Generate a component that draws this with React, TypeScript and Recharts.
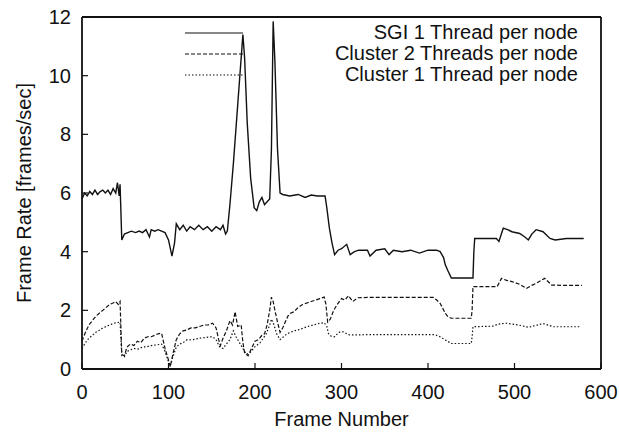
import { LineChart, Line, XAxis, YAxis, Legend } from "recharts";

const sgiFrames = [
  0, 3, 6, 9, 12, 15, 18, 21, 24, 27, 30, 33, 36, 39, 41, 43, 44, 46, 49, 53, 57, 62, 66, 70, 74, 78, 80, 84, 88,
  92, 96, 100, 104, 107, 109, 113, 117, 121, 125, 130, 135, 140, 145, 150, 155, 160, 163, 166, 168, 171, 175, 179,
  183, 186, 188, 191, 195, 199, 202, 205, 208, 211, 214, 217, 219, 221, 223, 226, 229, 232, 240, 250, 258, 265, 272,
  281, 283, 286, 289, 292, 296, 300, 306, 310, 315, 320, 330, 333, 340, 350, 355, 360, 370, 380, 390, 400, 410, 414,
  418, 420, 423, 427, 440, 452, 453, 454, 470, 479, 482, 487, 492, 497, 506, 512, 516, 520, 525, 533, 541, 547, 560,
  580,
];
const sgiRates = [
  5.8, 6.0, 5.9, 6.05, 5.95, 6.1, 5.95, 6.05, 6.1, 6.0, 6.1, 5.95, 6.15, 6.0, 6.35, 5.9, 6.3, 4.4, 4.6, 4.65, 4.7,
  4.65, 4.7, 4.65, 4.75, 4.5, 4.75, 4.7, 4.75, 4.7, 4.65, 4.4, 3.85, 4.3, 4.95, 4.75, 4.9, 4.7, 4.85, 4.75, 4.9, 4.75,
  4.85, 4.7, 4.85, 4.75, 4.9, 4.6, 4.7, 5.6, 7.0, 8.6, 10.2, 11.4, 10.6, 8.4, 6.5, 5.5, 5.4, 5.7, 5.85, 5.6, 5.7, 5.8,
  7.5, 11.85, 10.5, 7.5, 6.0, 5.95, 5.9, 5.95, 5.85, 5.93, 5.9, 5.9, 5.5, 4.8, 4.3, 3.9, 4.05, 4.1, 4.25, 3.9, 4.0,
  4.05, 4.05, 3.85, 4.05, 4.1, 3.9, 4.05, 4.0, 4.05, 3.95, 4.05, 4.05, 4.0, 3.8, 3.55, 3.35, 3.1, 3.1, 3.1, 4.0,
  4.45, 4.45, 4.45, 4.35, 4.8, 4.75, 4.68, 4.62, 4.5, 4.4, 4.6, 4.75, 4.68, 4.45, 4.4, 4.45, 4.45,
];

const cluster2Frames = [
  0, 4, 8, 12, 16, 20, 24, 28, 32, 36, 39, 42, 44, 46, 49, 52, 56, 60, 64, 68, 72, 76, 80, 84, 88, 92, 96, 100, 102,
  105, 109, 113, 117, 121, 126, 131, 136, 141, 146, 151, 155, 158, 160, 163, 167, 171, 174, 177, 180, 184, 186, 188,
  192, 196, 200, 204, 208, 211, 214, 217, 219, 221, 223, 226, 229, 232, 235, 238, 241, 245, 250, 255, 260, 265, 270,
  275, 280, 282, 284, 287, 291, 295, 300, 304, 308, 313, 319, 330, 350, 380, 406, 410, 414, 420, 423, 427, 450, 451,
  452, 480, 485, 491, 497, 505, 514, 520, 525, 535, 543, 560, 578,
];
const cluster2Rates = [
  0.95, 1.25, 1.5, 1.65, 1.8, 1.9, 2.0, 2.1, 2.2, 2.25, 2.3, 2.2, 2.3, 0.5, 0.45, 0.75, 0.85, 0.8, 0.95, 0.9, 1.05,
  1.1, 1.1, 1.15, 1.2, 1.22, 0.7, 0.3, 0.08, 0.5, 1.0, 1.2, 1.3, 1.33, 1.4, 1.4, 1.45, 1.5, 1.5, 1.56, 1.4, 1.0, 0.8,
  1.05, 1.3, 1.65, 1.5, 1.95, 1.45, 1.5, 0.9, 0.55, 0.45, 0.7, 0.95, 1.0, 1.15, 1.2, 1.5, 2.0, 2.45, 2.3, 2.0, 1.6,
  1.25, 1.4, 1.6, 1.8, 1.9, 1.95, 2.1, 2.2, 2.25, 2.3, 2.35, 2.4, 2.45, 2.2, 1.6, 1.7, 2.0, 2.2, 2.4, 2.35, 2.5, 2.3,
  2.43, 2.44, 2.44, 2.44, 2.44, 2.35, 2.24, 1.9, 1.78, 1.73, 1.73, 2.0, 2.81, 2.81, 3.09, 3.02, 2.98, 2.9, 2.75,
  2.85, 2.92, 3.09, 2.86, 2.85, 2.85,
];

const cluster1Frames = [
  0, 4, 8, 12, 16, 20, 24, 28, 32, 36, 40, 44, 46, 49, 52, 56, 60, 65, 70, 75, 80, 86, 92, 96, 100, 102, 105, 109,
  113, 117, 121, 128, 136, 144, 151, 155, 159, 163, 167, 171, 175, 178, 182, 186, 190, 194, 200, 206, 213, 217, 219,
  222, 225, 229, 233, 237, 245, 252, 260, 267, 275, 280, 283, 285, 288, 292, 297, 302, 308, 313, 330, 360, 390, 408,
  414, 420, 427, 450, 451, 452, 475, 481, 490, 500, 508, 516, 524, 533, 545, 560, 576,
];
const cluster1Rates = [
  0.7, 0.9, 1.05, 1.15, 1.25, 1.32, 1.4, 1.45, 1.5, 1.55, 1.58, 1.6, 0.45, 0.42, 0.6, 0.65, 0.7, 0.68, 0.75, 0.76,
  0.8, 0.82, 0.85, 0.6, 0.25, 0.1, 0.4, 0.75, 0.85, 0.9, 0.99, 1.0, 1.05, 1.08, 1.1, 1.0, 0.76, 0.7, 0.85, 1.0, 1.3,
  1.1, 0.9, 0.7, 0.5, 0.55, 0.76, 0.9, 1.2, 1.5, 1.7, 1.5, 1.2, 1.0, 1.1, 1.2, 1.3, 1.35, 1.44, 1.5, 1.56, 1.58,
  1.45, 1.2, 1.12, 1.1, 1.25, 1.27, 1.17, 1.16, 1.17, 1.17, 1.17, 1.17, 1.1, 0.99, 0.87, 0.87, 1.1, 1.44, 1.46,
  1.53, 1.56, 1.52, 1.48, 1.42, 1.48, 1.55, 1.44, 1.44, 1.44,
];

const xTicks = [0, 100, 200, 300, 400, 500, 600];
const yTicks = [0, 2, 4, 6, 8, 10, 12];

const toPoints = (frames: number[], rates: number[]) =>
  frames.map((frame, i) => ({ frame, rate: rates[i] }));

const series = [
  { name: "SGI 1 Thread per node", data: toPoints(sgiFrames, sgiRates), dash: undefined, width: 1.4 },
  { name: "Cluster 2 Threads per node", data: toPoints(cluster2Frames, cluster2Rates), dash: "4 2", width: 1.2 },
  { name: "Cluster 1 Thread per node", data: toPoints(cluster1Frames, cluster1Rates), dash: "1.5 2", width: 1.2 },
];

const FONT = '"Liberation Sans", Arial, Helvetica, sans-serif';
const INK = "#111";

const BottomTick = ({ x, y, payload }: any) => (
  <g>
    <line x1={x} y1={y} x2={x} y2={y - 6} stroke={INK} strokeWidth={1.2} />
    <text x={x} y={y + 30} textAnchor="middle" fontSize={20} fontFamily={FONT} fill={INK}>
      {payload.value}
    </text>
  </g>
);

const TopTick = ({ x, y }: any) => <line x1={x} y1={y} x2={x} y2={y + 6} stroke={INK} strokeWidth={1.2} />;

const LeftTick = ({ x, y, payload }: any) => (
  <g>
    <line x1={x} y1={y} x2={x + 6} y2={y} stroke={INK} strokeWidth={1.2} />
    <text x={x - 11} y={y + 7} textAnchor="end" fontSize={20} fontFamily={FONT} fill={INK}>
      {payload.value}
    </text>
  </g>
);

const RightTick = ({ x, y }: any) => <line x1={x} y1={y} x2={x - 6} y2={y} stroke={INK} strokeWidth={1.2} />;

// keep the key in plotting order (recharts sorts legend items by name otherwise)
const renderLegend = () => (
  <div style={{ fontFamily: FONT, fontSize: 20, color: INK }}>
    {series.map((s) => (
      <div key={s.name} style={{ display: "flex", alignItems: "center", height: 21, lineHeight: "21px" }}>
        <svg width={58} height={21} style={{ display: "block" }}>
          <line x1={0} y1={11} x2={58} y2={11} stroke={INK} strokeWidth={1.2} strokeDasharray={s.dash} />
        </svg>
        <span style={{ flex: 1, textAlign: "right", whiteSpace: "nowrap" }}>{s.name}</span>
      </div>
    ))}
  </div>
);

export default function App() {
  return (
    <div style={{ position: "absolute", left: 0, top: 0, background: "#fff" }}>
      <LineChart width={619} height={433} margin={{ top: 16, right: 17, bottom: 0, left: 0 }}>
        <XAxis
          dataKey="frame"
          type="number"
          domain={[0, 600]}
          ticks={xTicks}
          tickSize={0}
          tickMargin={0}
          tick={BottomTick}
          height={64}
          axisLine={{ stroke: INK, strokeWidth: 1.8 }}
          allowDuplicatedCategory={false}
          label={({ viewBox }: any) => (
            <text
              x={viewBox.x + viewBox.width / 2}
              y={viewBox.y + 57}
              textAnchor="middle"
              fontSize={20}
              fontFamily={FONT}
              fill={INK}
            >
              Frame Number
            </text>
          )}
        />
        <XAxis
          xAxisId="top"
          orientation="top"
          type="number"
          domain={[0, 600]}
          ticks={xTicks}
          tickSize={0}
          tickMargin={0}
          tick={TopTick}
          height={1}
          axisLine={{ stroke: INK, strokeWidth: 1.8 }}
        />
        <YAxis
          type="number"
          domain={[0, 12]}
          ticks={yTicks}
          tickSize={0}
          tickMargin={0}
          tick={LeftTick}
          width={82}
          axisLine={{ stroke: INK, strokeWidth: 1.8 }}
          label={({ viewBox }: any) => {
            const cx = 31;
            const cy = viewBox.y + viewBox.height / 2;
            return (
              <text
                x={cx}
                y={cy}
                transform={`rotate(-90, ${cx}, ${cy})`}
                textAnchor="middle"
                fontSize={20}
                fontFamily={FONT}
                fill={INK}
              >
                Frame Rate [frames/sec]
              </text>
            );
          }}
        />
        <YAxis
          yAxisId="right"
          orientation="right"
          type="number"
          domain={[0, 12]}
          ticks={yTicks}
          tickSize={0}
          tickMargin={0}
          tick={RightTick}
          width={1}
          axisLine={{ stroke: INK, strokeWidth: 1.8 }}
        />
        <Legend
          layout="horizontal"
          verticalAlign="middle"
          align="center"
          content={renderLegend}
          wrapperStyle={{ position: "absolute", top: 22, left: 185, width: 393, height: 63 }}
        />
        {series.map((s) => (
          <Line
            key={s.name}
            name={s.name}
            data={s.data}
            dataKey="rate"
            type="linear"
            stroke={INK}
            strokeWidth={s.width}
            strokeDasharray={s.dash}
            dot={false}
            activeDot={false}
            isAnimationActive={false}
          />
        ))}
      </LineChart>
    </div>
  );
}
